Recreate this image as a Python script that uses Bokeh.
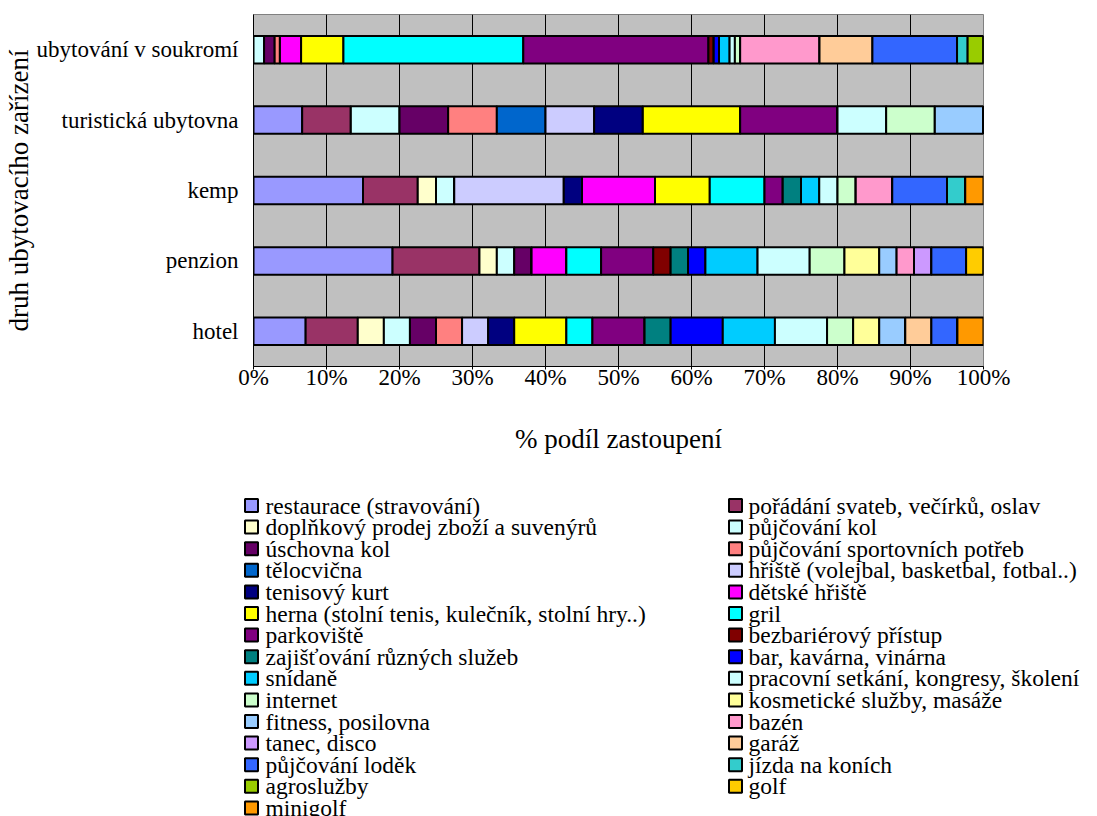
from bokeh.plotting import figure
from bokeh.models import ColumnDataSource, Range1d, FactorRange, FixedTicker
from bokeh.layouts import column, row
from bokeh.embed import file_html
from bokeh.resources import INLINE
from bokeh.core.properties import value

FONT = "Liberation Serif"

categories = ["hotel", "penzion", "kemp", "turistická ubytovna", "ubytování v soukromí"]

services = [
    "restaurace (stravování)", "pořádání svateb, večírků, oslav",
    "doplňkový prodej zboží a suvenýrů", "půjčování kol",
    "úschovna kol", "půjčování sportovních potřeb",
    "tělocvična", "hřiště (volejbal, basketbal, fotbal..)",
    "tenisový kurt", "dětské hřiště",
    "herna (stolní tenis, kulečník, stolní hry..)", "gril",
    "parkoviště", "bezbariérový přístup",
    "zajišťování různých služeb", "bar, kavárna, vinárna",
    "snídaně", "pracovní setkání, kongresy, školení",
    "internet", "kosmetické služby, masáže",
    "fitness, posilovna", "bazén",
    "tanec, disco", "garáž",
    "půjčování loděk", "jízda na koních",
    "agroslužby", "golf",
    "minigolf",
]

colors = [
    "#9999FF", "#993366", "#FFFFCC", "#CCFFFF", "#660066", "#FF8080",
    "#0066CC", "#CCCCFF", "#000080", "#FF00FF", "#FFFF00", "#00FFFF",
    "#800080", "#800000", "#008080", "#0000FF", "#00CCFF", "#CCFFFF",
    "#CCFFCC", "#FFFF99", "#99CCFF", "#FF99CC", "#CC99FF", "#FFCC99",
    "#3366FF", "#33CCCC", "#99CC00", "#FFCC00", "#FF9900",
]

# counts of facilities offering each service (order = services)
hotel =    [2, 2, 1, 1, 1, 1, 0, 1, 1, 0, 2, 1, 2, 0, 1, 2, 2, 2, 1, 1, 1, 0, 0, 1, 1, 0, 0, 0, 1]
penzion =  [8, 5, 1, 1, 1, 0, 0, 0, 0, 2, 0, 2, 3, 1, 1, 1, 3, 3, 2, 2, 1, 1, 1, 0, 2, 0, 0, 1, 0]
kemp =     [6, 3, 1, 1, 0, 0, 0, 6, 1, 4, 3, 3, 1, 0, 1, 0, 1, 1, 1, 0, 0, 2, 0, 0, 3, 1, 0, 0, 1]
ubytovna = [1, 1, 0, 1, 1, 1, 1, 1, 1, 0, 2, 0, 2, 0, 0, 0, 0, 1, 1, 0, 1, 0, 0, 0, 0, 0, 0, 0, 0]
soukromi = [0, 0, 0, 2, 2, 1, 0, 0, 0, 4, 8, 34, 35, 1, 0, 1, 2, 1, 1, 0, 0, 15, 0, 10, 16, 2, 3, 0, 0]

x_ticks = [0, 10, 20, 30, 40, 50, 60, 70, 80, 90, 100]
tick_labels = ["0%", "10%", "20%", "30%", "40%", "50%", "60%", "70%", "80%", "90%", "100%"]

rows = [hotel, penzion, kemp, ubytovna, soukromi]
keys = ["s%d" % i for i in range(len(services))]
data = {"cat": categories}
for i, k in enumerate(keys):
    data[k] = [r[i] / sum(r) * 100.0 for r in rows]
src = ColumnDataSource(data)

p = figure(frame_width=730, frame_height=352,
           y_range=FactorRange(*categories), x_range=Range1d(0, 100),
           output_backend="svg", toolbar_location=None,
           min_border_left=246, min_border_right=105,
           min_border_top=14, min_border_bottom=102)

p.hbar_stack(keys, y="cat", height=0.39, fill_color=colors, line_color="black",
             line_width=2, source=src)

p.background_fill_color = "#C0C0C0"
p.outline_line_color = "#808080"
p.ygrid.grid_line_color = None
p.xgrid.ticker = FixedTicker(ticks=x_ticks)
p.xgrid.grid_line_color = "black"
p.xgrid.grid_line_width = 1

p.xaxis.ticker = FixedTicker(ticks=x_ticks)
p.xaxis.major_label_overrides = {t: l for t, l in zip(x_ticks, tick_labels)}
p.xaxis.major_tick_out = 3
p.xaxis.major_tick_in = 0
p.xaxis.minor_tick_line_color = None
p.xaxis.major_label_standoff = -5
p.xaxis.axis_label = "% podíl zastoupení"
p.xaxis.axis_label_standoff = 31

p.yaxis.major_tick_line_color = None
p.yaxis.major_tick_out = 0
p.yaxis.major_tick_in = 0
p.yaxis.minor_tick_line_color = None
p.yaxis.major_label_standoff = 15
p.yaxis.axis_label = "druh ubytovacího zařízení"
p.yaxis.axis_label_standoff = 0

for ax in (p.xaxis[0], p.yaxis[0]):
    ax.axis_line_color = "black"
    ax.axis_line_width = 1
    ax.major_label_text_font = FONT
    ax.major_label_text_font_size = "23px"
    ax.major_label_text_color = "black"
    ax.axis_label_text_font = FONT
    ax.axis_label_text_font_size = "27px"
    ax.axis_label_text_font_style = "normal"
    ax.axis_label_text_color = "black"

# legend drawn in its own pixel-space figure
LW, LH = 1081, 348
lf = figure(width=LW, height=LH, x_range=Range1d(0, LW), y_range=Range1d(LH, 0),
            output_backend="svg", toolbar_location=None, min_border=0)
lf.axis.visible = False
lf.grid.visible = False
lf.outline_line_color = None

row_h = 21.6
col_sq = [251, 735]
col_tx = [265, 748]
sx, sy, tx = [], [], []
for i in range(len(services)):
    r, c = divmod(i, 2)
    sx.append(col_sq[c])
    tx.append(col_tx[c])
    sy.append(37 + r * row_h)
lf.rect(x=sx, y=sy, width=13, height=13, fill_color=colors, line_color="black", line_width=2)
lf.text(x=tx, y=sy, text=services, text_font=value(FONT), text_font_size="23.5px",
        text_baseline="middle", text_color="black")

layout = column(p, row(lf), spacing=0)
open("out.html", "w").write(file_html(layout, INLINE))
